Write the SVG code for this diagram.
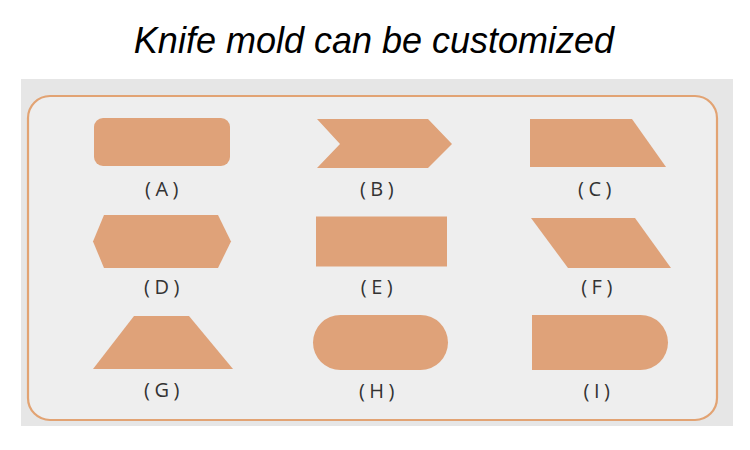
<svg xmlns="http://www.w3.org/2000/svg" width="750" height="450" viewBox="0 0 750 450">
<style>
.shape{fill:#DFA279;}
.lbl{font-family:"Open Sans","Noto Sans","Liberation Sans",sans-serif;font-size:20px;fill:#333333;text-anchor:middle;letter-spacing:4.5px;}
.title{font-family:"Liberation Sans",Arial,sans-serif;font-size:36px;font-style:italic;fill:#000;text-anchor:middle;}
</style>
<rect x="0" y="0" width="750" height="450" fill="#ffffff"/>
<text class="title" x="374" y="53">Knife mold can be customized</text>
<rect x="21" y="79" width="712" height="347" fill="#E6E6E6"/>
<rect x="28" y="96" width="689" height="324" rx="22" fill="#EEEEEE" stroke="#E2A373" stroke-width="2.2"/>
<g id="A">
<rect class="shape" x="94" y="118" width="136" height="48" rx="9"/>
<text class="lbl" x="164" y="196">(A)</text>
</g>
<g id="B">
<polygon class="shape" points="317,119 428,119 452,144 428,168 317,168 340,144"/>
<text class="lbl" x="379" y="196">(B)</text>
</g>
<g id="C">
<polygon class="shape" points="530,119 632,119 666,167 530,167"/>
<text class="lbl" x="597" y="196">(C)</text>
</g>
<g id="D">
<polygon class="shape" points="104,215 218,215 231,241.5 218,268 104,268 93,241.5"/>
<text class="lbl" x="164" y="294">(D)</text>
</g>
<g id="E">
<rect class="shape" x="316" y="216.5" width="131" height="50"/>
<text class="lbl" x="379" y="294">(E)</text>
</g>
<g id="F">
<polygon class="shape" points="531,218 635,218 671,268 568,268"/>
<text class="lbl" x="599" y="294">(F)</text>
</g>
<g id="G">
<polygon class="shape" points="134,316 189,316 233,369 93,369"/>
<text class="lbl" x="164" y="397">(G)</text>
</g>
<g id="H">
<rect class="shape" x="313" y="315" width="135" height="55" rx="27.5"/>
<text class="lbl" x="379" y="398">(H)</text>
</g>
<g id="I">
<path class="shape" d="M532,315 H640.5 A27.5,27.5 0 0 1 640.5,370 H532 Z"/>
<text class="lbl" x="599" y="398">(I)</text>
</g>
<g id="connectors"></g>
</svg>
